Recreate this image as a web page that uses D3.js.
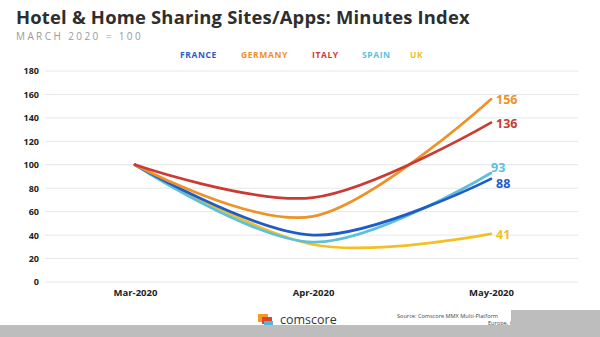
<!DOCTYPE html>
<html>
<head>
<meta charset="utf-8">
<script src="https://cdn.jsdelivr.net/npm/d3@7"></script>
<style>
  body { margin: 0; background: #fff; }
  svg { display: block; font-family: "Open Sans", "DejaVu Sans", sans-serif; }
</style>
</head>
<body>
<div id="chart"></div>
<script>
// minutes index, March 2020 = 100
var months = ["Mar-2020", "Apr-2020", "May-2020"];
var countries = ["FRANCE", "GERMANY", "ITALY", "SPAIN", "UK"];
var france = [100, 40, 88];
var germany = [100, 56, 156];
var italy = [100, 72, 136];
var spain = [100, 34, 93];
var uk = [100, 32, 41];
var yTicks = [0, 20, 40, 60, 80, 100, 120, 140, 160, 180];

var colors = ["#1f5cc8", "#ee9227", "#cb3b34", "#5cbfdc", "#f2c024"];
var seriesValues = [france, germany, italy, spain, uk];

var W = 600, H = 337;
var svg = d3.select("#chart").append("svg")
	.attr("width", W)
	.attr("height", H);

svg.append("text")
	.attr("x", 16).attr("y", 24)
	.attr("font-size", 18.4).attr("font-weight", 700)
	.attr("letter-spacing", 0.2)
	.attr("fill", "#2e2e2e")
	.text("Hotel & Home Sharing Sites/Apps: Minutes Index");

svg.append("text")
	.attr("x", 16).attr("y", 40)
	.attr("font-size", 10).attr("letter-spacing", 2.4)
	.attr("fill", "#9a9a9a")
	.text("MARCH 2020 = 100");

// legend
var legendX = [180, 241, 312, 362, 410];
svg.append("g").selectAll("text")
	.data(countries)
	.enter()
	.append("text")
	.attr("x", function (d, i) { return legendX[i]; })
	.attr("y", 58)
	.attr("font-size", 8.5).attr("font-weight", 700)
	.attr("letter-spacing", 0.6)
	.attr("fill", function (d, i) { return colors[i]; })
	.text(function (d) { return d; });

var x = d3.scalePoint()
	.domain(months)
	.range([135, 491]);

var y = d3.scaleLinear()
	.domain([0, 180])
	.range([282, 71]);

// grid
svg.append("g").selectAll("line")
	.data(yTicks)
	.enter()
	.append("line")
	.attr("x1", 45).attr("x2", 578)
	.attr("y1", function (d) { return y(d); })
	.attr("y2", function (d) { return y(d); })
	.attr("stroke", "#e6e6e6")
	.attr("stroke-width", 1);

var yAxis = svg.append("g")
	.attr("transform", "translate(39,0)")
	.call(d3.axisLeft(y).tickValues(yTicks).tickSize(0).tickPadding(0));
yAxis.select(".domain").remove();
yAxis.selectAll("text")
	.attr("font-size", 9).attr("font-weight", 700)
	.attr("fill", "#222")
	.attr("font-family", "Open Sans, DejaVu Sans, sans-serif");

var xAxis = svg.append("g")
	.attr("transform", "translate(0,289)")
	.call(d3.axisBottom(x).tickSize(0).tickPadding(0));
xAxis.select(".domain").remove();
xAxis.selectAll("text")
	.attr("font-size", 9.5).attr("font-weight", 700)
	.attr("fill", "#222")
	.attr("font-family", "Open Sans, DejaVu Sans, sans-serif");

var line = d3.line()
	.x(function (d, i) { return x(months[i]); })
	.y(function (d) { return y(d); })
	.curve(d3.curveCardinal.tension(0));

// draw order: UK under, then others
var order = [4, 3, 0, 1, 2];
svg.append("g").selectAll("path")
	.data(order)
	.enter()
	.append("path")
	.attr("d", function (k) { return line(seriesValues[k]); })
	.attr("fill", "none")
	.attr("stroke", function (k) { return colors[k]; })
	.attr("stroke-width", 2.7)
	.attr("stroke-linecap", "round");

// end labels (Spain sits above its line end, France below)
var labelDx = [496, 496, 496, 491, 496];
var labelDy = [9, 5, 5, -1, 5];
svg.append("g").selectAll("text")
	.data(seriesValues)
	.enter()
	.append("text")
	.attr("x", function (d, i) { return labelDx[i]; })
	.attr("y", function (d, i) { return y(d[2]) + labelDy[i]; })
	.attr("font-size", 12.5).attr("font-weight", 700)
	.attr("fill", function (d, i) { return colors[i]; })
	.text(function (d) { return d[2]; });

// footer
var logo = svg.append("g").attr("transform", "translate(258,314)");
logo.append("rect").attr("x", 0).attr("y", 0).attr("width", 10).attr("height", 8).attr("fill", "#f39a1f");
logo.append("rect").attr("x", 4).attr("y", 3).attr("width", 10).attr("height", 7).attr("fill", "#e2432a");
logo.append("rect").attr("x", 6).attr("y", 7).attr("width", 9).attr("height", 5).attr("fill", "#4fb7e0");

svg.append("text")
	.attr("x", 280).attr("y", 324)
	.attr("font-size", 12.5)
	.attr("fill", "#333")
	.text("comscore");

svg.append("text")
	.attr("x", 397).attr("y", 318)
	.attr("font-size", 5.6)
	.attr("fill", "#444")
	.text("Source: Comscore MMX Multi-Platform");
svg.append("text")
	.attr("x", 488).attr("y", 325)
	.attr("font-size", 5.6)
	.attr("fill", "#444")
	.text("Europe, Ca");

svg.append("rect")
	.attr("x", 0).attr("y", 325).attr("width", W).attr("height", H - 325)
	.attr("fill", "#bdbdbd");
svg.append("rect")
	.attr("x", 511).attr("y", 310).attr("width", W - 511).attr("height", H - 310)
	.attr("fill", "#bdbdbd");
</script>
</body>
</html>
